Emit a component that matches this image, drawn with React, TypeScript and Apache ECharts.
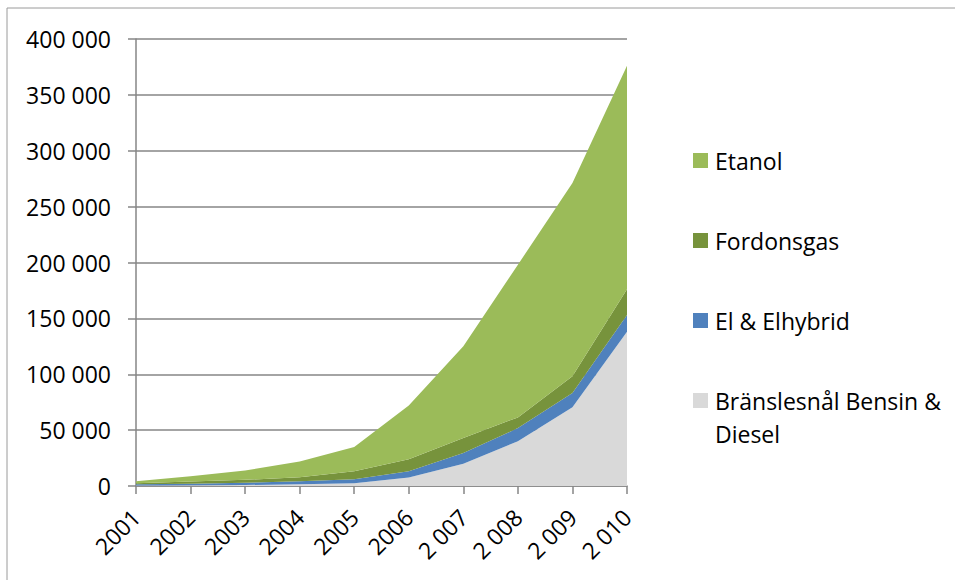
import React, { useEffect, useRef } from "react";
import * as echarts from "echarts";

const categories = ["2001", "2002", "2003", "2004", "2005", "2006", "2 007", "2 008", "2 009", "2 010"];
const seriesNames = ["Bränslesnål Bensin & Diesel", "El & Elhybrid", "Fordonsgas", "Etanol"];
const branslesnal = [500, 600, 900, 1500, 2500, 7500, 20000, 40000, 70500, 138000];
const elhybrid = [1000, 1400, 2000, 2800, 3500, 5800, 9500, 11800, 12700, 15000];
const fordonsgas = [1000, 2000, 2600, 3600, 7300, 10700, 13500, 9600, 15000, 23000];
const etanol = [1800, 4800, 8400, 14100, 21500, 48000, 82000, 136600, 173000, 200000];
const colors = ["#D9D9D9", "#4F81BD", "#77933C", "#9BBB59"];
const legendOrder = [3, 2, 1, 0];
const legendLabels = ["Etanol", "Fordonsgas", "El & Elhybrid", "Bränslesnål Bensin &\nDiesel"];

const FONT = "Open Sans";

function fmt(v: number): string {
  return String(v).replace(/\B(?=(\d{3})+(?!\d))/g, " ");
}

export default function App() {
  const ref = useRef<HTMLDivElement>(null);
  useEffect(() => {
    if (!ref.current) return;
    const chart = echarts.init(ref.current, undefined, { renderer: "svg" });
    const dataSets = [branslesnal, elhybrid, fordonsgas, etanol];
    const legendGraphics: any[] = [];
    legendOrder.forEach((si, i) => {
      const cy = 160.5 + i * 80;
      legendGraphics.push({
        type: "rect",
        shape: { x: 693, y: cy - 7.5, width: 15, height: 15 },
        style: { fill: colors[si] },
        silent: true,
      });
      legendGraphics.push({
        type: "text",
        x: 715,
        y: cy - 16.5,
        style: {
          text: legendLabels[i],
          fill: "#000",
          font: `23px "${FONT}"`,
          lineHeight: 33,
          verticalAlign: "top",
          align: "left",
        },
        silent: true,
      });
    });
    chart.setOption({
      animation: false,
      backgroundColor: "#fff",
      grid: { left: 136, right: 328, top: 39, bottom: 94 },
      xAxis: {
        type: "category",
        data: categories,
        boundaryGap: false,
        axisLine: { show: true, lineStyle: { color: "#868686", width: 1.5 } },
        axisTick: { show: true, length: 8, lineStyle: { color: "#868686", width: 1.5 } },
        axisLabel: {
          rotate: 45,
          interval: 0,
          margin: 27,
          color: "#000",
          fontFamily: FONT,
          fontSize: 23,
        },
        splitLine: { show: false },
      },
      yAxis: {
        type: "value",
        min: 0,
        max: 400000,
        interval: 50000,
        axisLine: { show: true, lineStyle: { color: "#868686", width: 1.5 } },
        axisTick: { show: true, length: 8, lineStyle: { color: "#868686", width: 1.5 } },
        axisLabel: {
          margin: 25,
          color: "#000",
          fontFamily: FONT,
          fontSize: 23,
          formatter: (v: number) => fmt(v),
        },
        splitLine: { show: true, lineStyle: { color: "#868686", width: 1.5 } },
      },
      series: seriesNames.map((name, i) => ({
        name,
        type: "line",
        stack: "total",
        data: dataSets[i],
        symbol: "none",
        lineStyle: { width: 0 },
        areaStyle: { color: colors[i], opacity: 1 },
        itemStyle: { color: colors[i] },
        z: 3,
      })),
      graphic: [
        {
          type: "rect",
          shape: { x: 7, y: 8, width: 2000, height: 2000 },
          style: { fill: "none", stroke: "#9a9a9a", lineWidth: 1 },
          silent: true,
        },
        ...legendGraphics,
      ],
    });
    return () => chart.dispose();
  }, []);
  return (
    <div
      ref={ref}
      style={{ position: "absolute", left: 0, top: 0, width: 955, height: 580 }}
    />
  );
}
